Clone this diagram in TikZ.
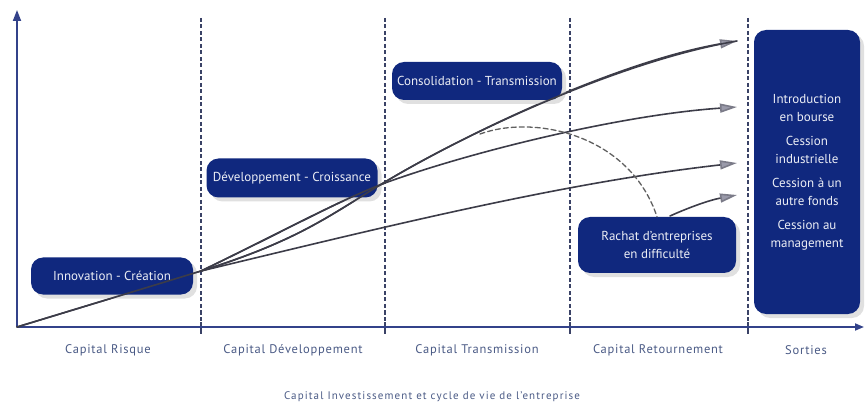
\documentclass[tikz,border=0pt]{standalone}
\usepackage{fontspec}
\setmainfont{PT Sans}
\newfontfamily\spacedfont[LetterSpace=6]{PT Sans}
\newfontfamily\capfont[LetterSpace=10]{PT Sans}
\usetikzlibrary{arrows.meta,shadows}
\definecolor{navy}{HTML}{10287E}
\definecolor{axisc}{HTML}{33428A}
\definecolor{dashc}{HTML}{3A4266}
\definecolor{labc}{HTML}{4A5A85}
\definecolor{curvec}{HTML}{3C3C48}
\definecolor{tipc}{HTML}{9A9AAA}
\begin{document}
\begin{tikzpicture}[x=1pt,y=-1pt,
  phase/.style={fill=navy,text=white!92!navy,rounded corners=12pt,font=\fontsize{13}{18}\selectfont,
    inner sep=0pt,align=center,drop shadow={shadow xshift=4pt,shadow yshift=-4pt,fill=black!20,opacity=0.6}},
  divider/.style={dashc,line width=1.5pt,dash pattern=on 4pt off 2.5pt},
  tick/.style={dashc,line width=1.5pt},
  axis/.style={axisc,line width=1.8pt},
  curve/.style={curvec,line width=1.6pt,line cap=round},
  tipcurve/.style={curve,-{Triangle[length=17pt,width=9pt,fill=tipc,color=tipc!80!black]}},
  lab/.style={text=labc,font=\spacedfont\fontsize{12.5}{14}\selectfont},
  ]
\useasboundingbox (0,0) rectangle (865,406);
% dividers
\foreach \xx in {201,385,570,748}{
  \draw[divider] (\xx,18) -- (\xx,327);
  \draw[tick] (\xx,322) -- (\xx,334);
}
% axes
\coordinate (O) at (17,327);
\coordinate (Ytop) at (17,10);
\coordinate (Xend) at (864,327);
\draw[axis,-{Triangle[length=11pt,width=8pt]}] (O) -- (Ytop);
\draw[axis,-{Triangle[length=9pt,width=7pt]}] (O) -- (Xend);
% curves
\coordinate (B) at (201,271);
\coordinate (M) at (385,182);
\coordinate (M2) at (385,183);
\coordinate (A1) at (737,41);
\coordinate (A2) at (737,107);
\coordinate (A3) at (737,163);
\coordinate (A4) at (737,195);
\coordinate (R0) at (670,216);
\coordinate (D0) at (480,134);
\draw[curve] (O) -- (B);
\draw[tipcurve] (B) .. controls (300,240) and (330,215) .. (M) .. controls (460,137) and (615,62) .. (A1);
\draw[tipcurve] (B) .. controls (290,228) and (340,200) .. (M2) .. controls (470,152) and (620,115) .. (A2);
\draw[tipcurve] (B) .. controls (380,228) and (560,183) .. (A3);
% nodes
\node[phase,minimum width=162pt,minimum height=37pt] (inno) at (112,276) {Innovation - Création};
\node[phase,minimum width=171pt,minimum height=39pt] (dev) at (292,178) {Développement - Croissance};
\node[phase,minimum width=170pt,minimum height=38pt] (conso) at (477,81) {Consolidation - Transmission};
\node[phase,minimum width=158pt,minimum height=56pt] (rachat) at (657,245) {Rachat d’entreprises\\en difficulté};
\node[phase,minimum width=106pt,minimum height=284pt] (sorties) at (807,172) {Introduction\\en bourse\\[6pt]Cession\\industrielle\\[6pt]Cession à un\\autre fonds\\[6pt]Cession au\\management};
% redraw curve segments that pass over node edges
\draw[curve] (O) -- (B);
\draw[curve] (B) .. controls (300,240) and (330,215) .. (M) .. controls (460,137) and (615,62) .. (A1);
\draw[curve] (B) .. controls (290,228) and (340,200) .. (M2);
\draw[tipcurve] (R0) .. controls (690,207) and (710,200) .. (A4);
% dashed arc
\draw[curve,gray!75!black,line width=1.3pt,dash pattern=on 5pt off 3pt] (D0) .. controls (535,114) and (630,135) .. (rachat.north);
% labels
\node[lab] (l1) at (108,350) {Capital Risque};
\node[lab] (l2) at (293,350) {Capital Développement};
\node[lab] (l3) at (477,350) {Capital Transmission};
\node[lab] (l4) at (658,350) {Capital Retournement};
\node[lab] (l5) at (806,350) {Sorties};
\node[text=labc,font=\capfont\fontsize{11}{12}\selectfont] (cap) at (432,397) {Capital Investissement et cycle de vie de l’entreprise};
\end{tikzpicture}
\end{document}
